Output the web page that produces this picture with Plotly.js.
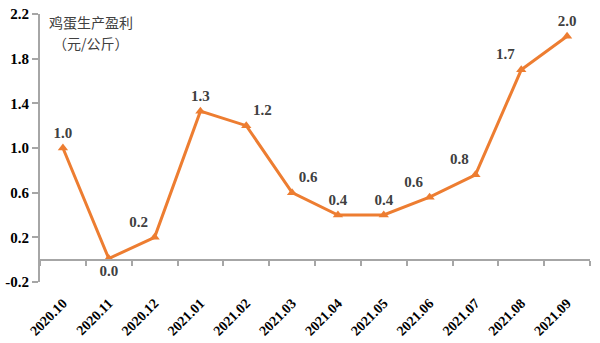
<!DOCTYPE html>
<html>
<head>
<meta charset="utf-8">
<script src="https://cdn.plot.ly/plotly-3.0.1.min.js"></script>
<style>html,body{margin:0;padding:0;background:#fff;}#chart{width:600px;height:343px;}</style>
</head>
<body>
<div id="chart"></div>
<script>
const months = ['2020.10','2020.11','2020.12','2021.01','2021.02','2021.03','2021.04','2021.05','2021.06','2021.07','2021.08','2021.09'];
const profit = [1.0, 0.01, 0.2, 1.33, 1.2, 0.6, 0.4, 0.4, 0.56, 0.76, 1.7, 2.0];
const labelText = ['1.0','0.0','0.2','1.3','1.2','0.6','0.4','0.4','0.6','0.8','1.7','2.0'];
const yTicks = [-0.2, 0.2, 0.6, 1.0, 1.4, 1.8, 2.2];
const yTickText = ['-0.2','0.2','0.6','1.0','1.4','1.8','2.2'];
const titleLine1 = '鸡蛋生产盈利';
const titleLine2 = '（元/公斤）';

const labelPos = ['top center','bottom center','top left','top center','top right','top right','top center','top center','top left','top left','top left','top center'];
const orange = '#ED7D31';
const serif = '"Liberation Serif", "Times New Roman", serif';
const cjk = '"Noto Sans CJK SC", sans-serif';

const trace = {
  x: months, y: profit, type: 'scatter', mode: 'lines+markers+text',
  line: {color: orange, width: 3},
  marker: {symbol: 'triangle-up', size: 9, color: orange},
  text: labelText, textposition: labelPos,
  textfont: {family: serif, size: 15, color: '#404040', weight: 'bold'},
  cliponaxis: false, hoverinfo: 'none'
};

const layout = {
  width: 600, height: 343,
  margin: {l: 40, r: 10, t: 14, b: 61},
  paper_bgcolor: '#fff', plot_bgcolor: '#fff',
  showlegend: false,
  xaxis: {
    type: 'category', tickson: 'boundaries',
    anchor: 'free', position: 0.2/2.4,
    showline: true, linecolor: '#a6a6a6', linewidth: 2,
    ticks: 'outside', ticklen: 5, tickcolor: '#a6a6a6', tickwidth: 2,
    tickangle: -45, ticklabelstandoff: 29,
    tickfont: {family: serif, size: 14, color: '#000', weight: 'bold'},
    showgrid: false, zeroline: false, range: [-0.5, 11.5], fixedrange: true
  },
  yaxis: {
    range: [-0.2, 2.2], tickvals: yTicks, ticktext: yTickText,
    showline: true, linecolor: '#a6a6a6', linewidth: 2,
    ticks: 'outside', ticklen: 6, tickcolor: '#a6a6a6', tickwidth: 2,
    tickfont: {family: serif, size: 15, color: '#000', weight: 'bold'},
    showgrid: false, zeroline: false, fixedrange: true
  },
  annotations: [
    {xref: 'paper', yref: 'paper', x: 0.092, y: 0.972, xanchor: 'center', yanchor: 'middle',
     text: titleLine1, showarrow: false,
     font: {family: cjk, size: 14, color: '#404040'}},
    {xref: 'paper', yref: 'paper', x: 0.092, y: 0.893, xanchor: 'center', yanchor: 'middle',
     text: titleLine2, showarrow: false,
     font: {family: cjk, size: 14, color: '#404040'}}
  ]
};

Plotly.newPlot('chart', [trace], layout, {staticPlot: true, displayModeBar: false});
</script>
</body>
</html>
